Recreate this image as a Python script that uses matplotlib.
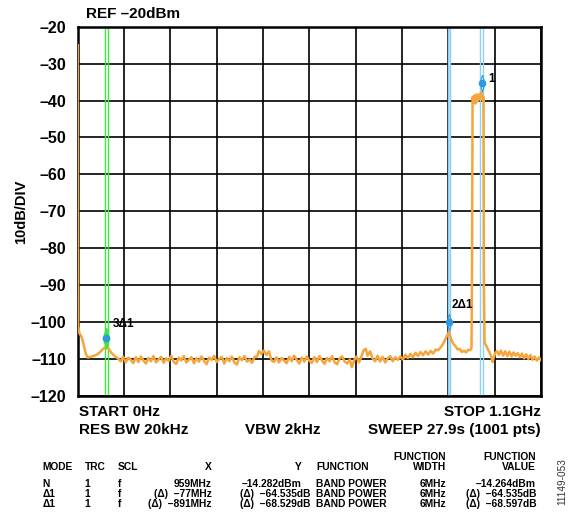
import matplotlib
matplotlib.use("Agg")
import matplotlib.pyplot as plt

plt.rcParams['font.family'] = ['Liberation Sans', 'DejaVu Sans']
plt.rcParams['font.weight'] = 'bold'

# sweep trace: (MHz, dBm)
trace = [
    (0, -25), (0.5, -80), (1, -101), (4, -103), (9, -104), (14, -106), (19, -108.5),
    (24, -109.6), (30, -109.4), (36, -109.2), (42, -109), (48, -108.6), (54, -108),
    (60, -107.3), (65, -106.8), (69, -106.6), (73, -107.2), (78, -108), (84, -108.8),
    (90, -109.4), (96, -109.9),
    (102, -110.6), (108, -109.4), (114, -110.9), (120, -109.6), (126, -110.2), (132, -111.1),
    (138, -109.5), (144, -110.8), (150, -109.3), (156, -110.4), (162, -111.2), (168, -109.7),
    (174, -110.6), (180, -109.2), (186, -110.9), (192, -110.1), (198, -109.4), (204, -111.0),
    (210, -109.8), (216, -110.5), (222, -109.1), (228, -110.8), (234, -111.3), (240, -109.6),
    (246, -110.4), (252, -109.2), (258, -110.9), (264, -110.2), (270, -109.5), (276, -111.1),
    (282, -109.8), (288, -110.7), (294, -109.3), (300, -110.5), (306, -111.4), (312, -109.6),
    (318, -110.2), (324, -109.1), (330, -110.8), (336, -110.0), (342, -109.4), (348, -111.2),
    (354, -109.7), (360, -110.6), (366, -109.3), (372, -110.9), (378, -111.5), (384, -109.5),
    (390, -110.3), (396, -109.2), (402, -110.7), (408, -110.1), (414, -111.0), (420, -109.4),
    (426, -109.3), (430, -107.8), (436, -108.6), (442, -107.7), (448, -108.9), (454, -107.9),
    (460, -110.3), (466, -110.8),
    (472, -109.5), (478, -110.9), (484, -109.7), (490, -110.4), (496, -111.1), (502, -109.4),
    (508, -110.6), (514, -109.1), (520, -110.2), (526, -111.2), (532, -109.6), (538, -110.7),
    (544, -109.3), (550, -110.5), (556, -111.0), (562, -109.5), (568, -110.8), (574, -109.2),
    (580, -110.4), (586, -111.3), (592, -109.7), (598, -110.6), (604, -109.2), (610, -110.9),
    (616, -111.4), (622, -109.8), (628, -109.3), (634, -110.7), (640, -111.2), (646, -110.1),
    (651, -112.2), (656, -110.4), (662, -109.3), (668, -110.9), (674, -109.2), (679, -107.6),
    (684, -107.2), (688, -109.1), (694, -107.9), (700, -109.8), (706, -110.6), (712, -109.1),
    (718, -110.7), (724, -109.4), (730, -110.9), (736, -109.8), (742, -109.2), (748, -110.6),
    (754, -109.5), (760, -110.2), (766, -109.3), (772, -110.1), (778, -108.8), (784, -109.7),
    (790, -108.6), (796, -109.5), (802, -108.3), (808, -109.2), (814, -108.1), (820, -109.0),
    (826, -107.9), (832, -108.8), (838, -107.8), (844, -108.5), (850, -107.4), (856, -107.6),
    (862, -106.8), (868, -105.8), (873, -104.6), (877, -103.6), (881, -102.8), (884, -103.8),
    (888, -105), (892, -105.9), (897, -106.5), (902, -107.4), (907, -107.2), (912, -108.1),
    (917, -107.7), (922, -108.2), (927, -107.5), (932, -107.6), (935, -107),
    (936.5, -80), (937.5, -39), (940, -40.5), (942, -38.6), (944, -40.8), (946, -39),
    (948, -38.3), (950, -40.2), (952, -38.5), (954, -39.6), (956, -38.1), (958, -37.8),
    (960, -38.6), (962, -40), (963.5, -39), (964.5, -90),
    (966, -105.5), (970, -106.4), (974, -107.4), (978, -108.2), (982, -109.4), (985, -110.8),
    (988, -109.5), (992, -108.2), (996, -107.9),
    (1000, -108.9), (1005, -107.7), (1010, -109.1), (1015, -107.9), (1020, -109.2),
    (1025, -108.0), (1030, -109.3), (1035, -108.2), (1040, -109.1), (1045, -108.4),
    (1050, -109.5), (1055, -108.5), (1060, -109.8), (1065, -108.7), (1070, -110.0),
    (1075, -108.9), (1080, -110.2), (1085, -109.3), (1090, -110.4), (1095, -109.6),
    (1100, -110.3),
]
trace_mhz = [p[0] for p in trace]
trace_db = [p[1] for p in trace]

# markers: name, centre (MHz), level on screen (dBm), label position
marker_names = ["1", "2Δ1", "3Δ1"]
marker_mhz = [959, 882, 68]
marker_db = [-35.3, -100.0, -104.3]
label_mhz = [975, 888, 84]
label_db = [-34.2, -95.4, -100.6]
band_mhz = 6

yticks = [-20, -30, -40, -50, -60, -70, -80, -90, -100, -110, -120]

table_head = ["MODE", "TRC", "SCL", "X", "Y", "FUNCTION", "FUNCTION\nWIDTH", "FUNCTION\nVALUE"]
table_rows = [
    ["N", "1", "f", "959MHz", "–14.282dBm", "BAND POWER", "6MHz", "–14.264dBm"],
    ["Δ1", "1", "f", "(Δ)  –77MHz", "(Δ)  –64.535dB", "BAND POWER", "6MHz", "(Δ)  –64.535dB"],
    ["Δ1", "1", "f", "(Δ)  –891MHz", "(Δ)  –68.529dB", "BAND POWER", "6MHz", "(Δ)  –68.597dB"],
]

W, H = 568, 515
fig = plt.figure(figsize=(W / 100, H / 100), dpi=100)


def px(x, y):
    return x / W, 1 - y / H


ax = fig.add_axes([77.7 / W, 1 - 396 / H, 463.3 / W, 369.3 / H])
ax.set_xlim(0, 1100)
ax.set_ylim(-120, -20)
ax.set_xticks(range(0, 1101, 110))
ax.set_yticks(yticks)
ax.set_yticklabels(["–%d" % -v for v in yticks], fontsize=11.5, fontweight="bold")
ax.tick_params(axis="x", length=0, labelbottom=False)
ax.tick_params(axis="y", length=0, pad=8)
ax.grid(True, color="black", lw=1.2)
for s in ax.spines.values():
    s.set_linewidth(1.8)
ax.set_ylabel("10dB/DIV", fontsize=10.5, fontweight="bold", labelpad=2)

green = "#3ee83e"
blue_line = "#8ed2f2"
blue_dot = "#2f9ae0"

# band power markers
for i, name in enumerate(marker_names):
    c = green if name.startswith("3") else blue_line
    lo, hi = marker_mhz[i] - band_mhz / 2, marker_mhz[i] + band_mhz / 2
    if name.startswith("2"):
        ax.axvspan(lo, hi, color="#c2e7f9", lw=0, zorder=2)
    ax.axvline(lo, color=c, lw=1.0, zorder=2)
    ax.axvline(hi, color=c, lw=1.0, zorder=2)

ax.plot(trace_mhz, trace_db, color="#f5a53a", lw=1.8, zorder=3)

diamond = [(0, 1), (0.3, 0), (0, -1), (-0.3, 0), (0, 1)]
for i, name in enumerate(marker_names):
    if name.startswith("3"):
        ax.plot(marker_mhz[i], marker_db[i], marker=diamond, ms=15, color=green,
                mec=green, zorder=4)
    else:
        ax.plot(marker_mhz[i], marker_db[i], marker=diamond, ms=12, mfc="none",
                mec=blue_dot, mew=0.8, ls="none", zorder=4)
    ax.plot(marker_mhz[i], marker_db[i], "o", ms=4.5, color=blue_dot, zorder=5)
    ax.text(label_mhz[i], label_db[i], name, fontsize=8.5, fontweight="bold",
            ha="left", va="center", zorder=6)

fig.text(*px(86, 14.5), "REF –20dBm", fontsize=11, fontweight="bold", va="center")
fig.text(*px(79, 412), "START 0Hz", fontsize=11, fontweight="bold", va="center")
fig.text(*px(541, 412), "STOP 1.1GHz", fontsize=11, fontweight="bold", va="center",
         ha="right")
fig.text(*px(79, 430), "RES BW 20kHz", fontsize=11, fontweight="bold", va="center")
fig.text(*px(283, 430), "VBW 2kHz", fontsize=11, fontweight="bold", va="center",
         ha="center")
fig.text(*px(541, 430), "SWEEP 27.9s (1001 pts)", fontsize=11, fontweight="bold",
         va="center", ha="right")

# marker table
col_x = [42.8, 84.4, 117.8, 212, 302, 316.3, 446.4, 536.2]
col_ha = ["left", "left", "left", "right", "right", "left", "right", "right"]
row_y = [484, 494, 504]
for j, h in enumerate(table_head):
    fig.text(*px(col_x[j], 472), h, fontsize=7.4, fontweight="bold", ha=col_ha[j],
             va="bottom", multialignment="right", linespacing=1.05)
for r, row in enumerate(table_rows):
    for j, v in enumerate(row):
        x = col_x[j]
        if j == 4 and r > 0:
            x = 310.5
        fig.text(*px(x, row_y[r]), v, fontsize=7.4, fontweight="bold", ha=col_ha[j],
                 va="center")

fig.text(*px(562, 482), "11149-053", fontsize=7.2, rotation=90, ha="center",
         va="center", fontweight="normal", color="#333333")

fig.savefig("out.png", dpi=100)
